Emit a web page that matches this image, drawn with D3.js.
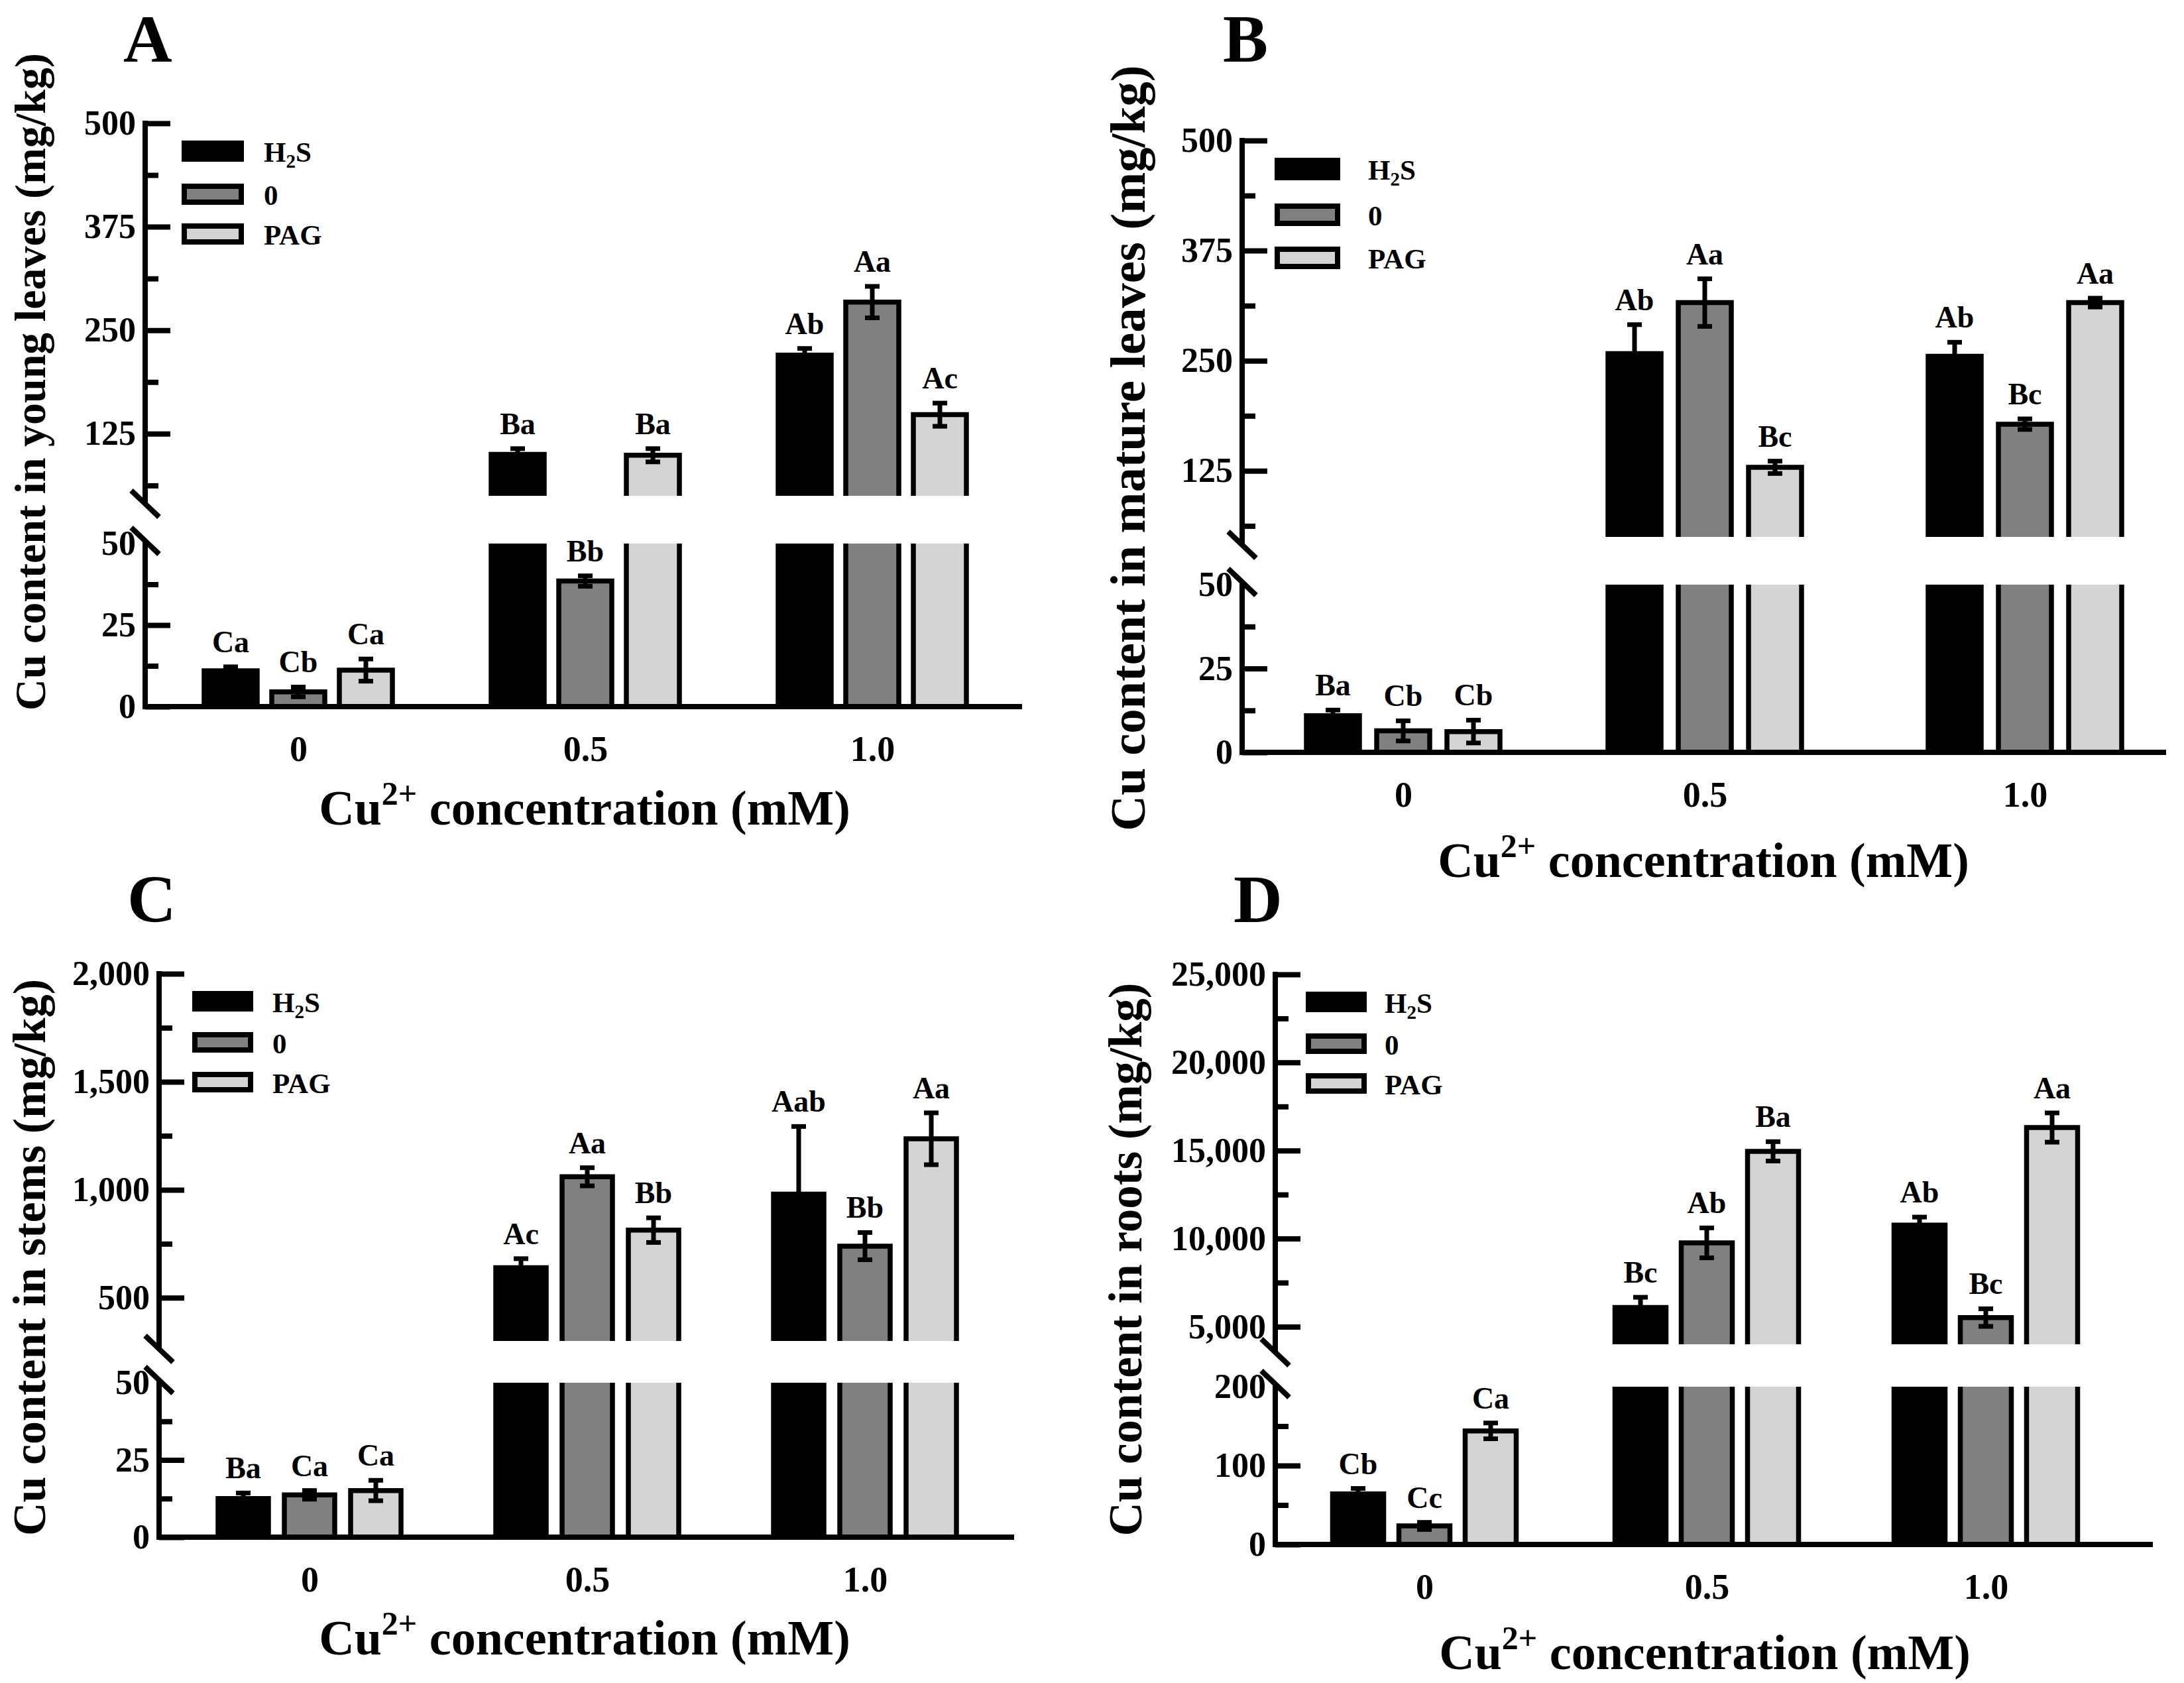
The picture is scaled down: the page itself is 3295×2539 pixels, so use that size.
<!DOCTYPE html>
<html><head><meta charset="utf-8">
<script src="https://cdn.jsdelivr.net/npm/d3@7"></script>
<style>html,body{margin:0;padding:0;background:#fff;}</style>
</head><body>
<svg id="chart" width="3295" height="2539" xmlns="http://www.w3.org/2000/svg"></svg>
<script>
// ---------- data ----------
const cuLevels = ["0", "0.5", "1.0"];
const treatments = ["H2S", "0", "PAG"];
const treatmentColors = ["#000000", "#808080", "#d4d4d4"];

// A: young leaves
const youngH2S = [11.0, 100, 220];
const youngZero = [4.5, 38.5, 284];
const youngPAG = [11.2, 99, 148];
const youngErrH2S = [1.2, 7, 8];
const youngErrZero = [1.5, 1.6, 19];
const youngErrPAG = [3.4, 8, 14];
const youngLetH2S = ["Ca", "Ba", "Ab"];
const youngLetZero = ["Cb", "Bb", "Aa"];
const youngLetPAG = ["Ca", "Ba", "Ac"];

// B: mature leaves
const matureH2S = [10.9, 258, 255];
const matureZero = [6.4, 316, 178];
const maturePAG = [6.2, 129, 316];
const matureErrH2S = [1.7, 33, 16];
const matureErrZero = [3, 27, 6];
const matureErrPAG = [3.4, 7, 5];
const matureLetH2S = ["Ba", "Ab", "Ab"];
const matureLetZero = ["Cb", "Aa", "Bc"];
const matureLetPAG = ["Cb", "Bc", "Aa"];

// C: stems
const stemH2S = [12.5, 639, 980];
const stemZero = [13.7, 1060, 739];
const stemPAG = [15.1, 813, 1236];
const stemErrH2S = [1.8, 42, 313];
const stemErrZero = [1.4, 42, 63];
const stemErrPAG = [3.3, 57, 120];
const stemLetH2S = ["Ba", "Ac", "Aab"];
const stemLetZero = ["Ca", "Aa", "Bb"];
const stemLetPAG = ["Ca", "Bb", "Aa"];

// D: roots
const rootH2S = [64, 6092, 10767];
const rootZero = [23.5, 9757, 5516];
const rootPAG = [144, 14954, 16305];
const rootErrH2S = [7, 577, 455];
const rootErrZero = [4.5, 850, 500];
const rootErrPAG = [10, 550, 830];
const rootLetH2S = ["Cb", "Bc", "Ab"];
const rootLetZero = ["Cc", "Ab", "Bc"];
const rootLetPAG = ["Ca", "Ba", "Aa"];

// axis ticks
const leafUpperTicks = [125, 250, 375, 500];
const leafUpperMinor = [62.5, 187.5, 312.5, 437.5];
const leafLowerTicks = [0, 25, 50];
const leafLowerMinor = [12.5, 37.5];
const stemUpperTicks = [500, 1000, 1500, 2000];
const stemUpperMinor = [750, 1250, 1750];
const stemLowerTicks = [0, 25, 50];
const stemLowerMinor = [12.5, 37.5];
const rootUpperTicks = [5000, 10000, 15000, 20000, 25000];
const rootUpperMinor = [7500, 12500, 17500, 22500];
const rootLowerTicks = [0, 100, 200];
const rootLowerMinor = [50, 150];

// ---------- layout ----------
const FONT = "'Liberation Serif','Times New Roman',serif";
const panels = [
  { letter: "A", lx: 186, ly: 93, title: "Cu content in young leaves (mg/kg)", tx: 45, ty: 576, ts: 66,
    xtx: 882, xty: 1244,
    axisX: 219, yBase: 1066, lowTop: 820, upBot: 748, upTop: 186,
    lowDom: [0, 50], upDom: [50, 500], gc: [450, 883, 1316], pitch: 102, barW: 80, xEnd: 1542,
    legX: 274, legW: 94, legH: 32, legRows: [212, 277, 337], legTX: 398,
    vals: [youngH2S, youngZero, youngPAG], errs: [youngErrH2S, youngErrZero, youngErrPAG],
    lets: [youngLetH2S, youngLetZero, youngLetPAG],
    upT: leafUpperTicks, upM: leafUpperMinor, loT: leafLowerTicks, loM: leafLowerMinor },
  { letter: "B", lx: 1845, ly: 93, title: "Cu content in mature leaves (mg/kg)", tx: 1702, ty: 676, ts: 74.5,
    xtx: 2570, xty: 1323,
    axisX: 1874, yBase: 1135, lowTop: 882, upBot: 810, upTop: 212,
    lowDom: [0, 50], upDom: [50, 500], gc: [2117, 2572, 3055], pitch: 106, barW: 80, xEnd: 3268,
    legX: 1923, legW: 99, legH: 34, legRows: [238, 307, 372], legTX: 2064,
    vals: [matureH2S, matureZero, maturePAG], errs: [matureErrH2S, matureErrZero, matureErrPAG],
    lets: [matureLetH2S, matureLetZero, matureLetPAG],
    upT: leafUpperTicks, upM: leafUpperMinor, loT: leafLowerTicks, loM: leafLowerMinor },
  { letter: "C", lx: 192, ly: 1391, title: "Cu content in stems (mg/kg)", tx: 44, ty: 1897, ts: 70,
    xtx: 882, xty: 2496,
    axisX: 240, yBase: 2319, lowTop: 2086, upBot: 2023, upTop: 1469,
    lowDom: [0, 50], upDom: [300, 2000], gc: [467, 886, 1305], pitch: 100, barW: 76, xEnd: 1530,
    legX: 290, legW: 92, legH: 31, legRows: [1495, 1557, 1617], legTX: 411,
    vals: [stemH2S, stemZero, stemPAG], errs: [stemErrH2S, stemErrZero, stemErrPAG],
    lets: [stemLetH2S, stemLetZero, stemLetPAG],
    upT: stemUpperTicks, upM: stemUpperMinor, loT: stemLowerTicks, loM: stemLowerMinor },
  { letter: "D", lx: 1861, ly: 1391, title: "Cu content in roots (mg/kg)", tx: 1698, ty: 1900, ts: 71,
    xtx: 2572, xty: 2518,
    axisX: 1924, yBase: 2330, lowTop: 2092, upBot: 2028, upTop: 1470,
    lowDom: [0, 200], upDom: [4000, 25000], gc: [2149, 2575, 2996], pitch: 100, barW: 77, xEnd: 3248,
    legX: 1970, legW: 92, legH: 31, legRows: [1496, 1559, 1619], legTX: 2089,
    vals: [rootH2S, rootZero, rootPAG], errs: [rootErrH2S, rootErrZero, rootErrPAG],
    lets: [rootLetH2S, rootLetZero, rootLetPAG],
    upT: rootUpperTicks, upM: rootUpperMinor, loT: rootLowerTicks, loM: rootLowerMinor }
];

const svg = d3.select("#chart");
svg.append("rect").attr("width", 3295).attr("height", 2539).attr("fill", "#fff");

const LW = 8;       // axis line width
const BW = 7.5;     // bar outline width
const EW = 7;       // error bar width

function styleAxis(sel, size) {
  sel.attr("font-family", FONT).attr("font-size", size).attr("font-weight", "bold");
  sel.selectAll("text").attr("fill", "#000");
  sel.selectAll("line").attr("stroke", "#000").attr("stroke-width", LW);
}

function drawPanel(p) {
  const g = svg.append("g");
  const yLow = d3.scaleLinear().domain(p.lowDom).range([p.yBase, p.lowTop]);
  const yUp = d3.scaleLinear().domain(p.upDom).range([p.upBot, p.upTop]);
  const y = v => (v <= p.lowDom[1] ? yLow(v) : yUp(v));
  const xg = d3.scaleLinear().domain([0, 1, 2]).range(p.gc);
  const xs = d3.scaleLinear().domain([0, 2]).range([-p.pitch, p.pitch]);

  // bars
  treatments.forEach((t, j) => {
    p.vals[j].forEach((v, i) => {
      const cx = xg(i) + xs(j);
      const x0 = cx - p.barW / 2, x1 = cx + p.barW / 2;
      const col = treatmentColors[j];
      const lt = yLow(Math.min(v, p.lowDom[1]));
      g.append("rect").attr("x", x0).attr("y", lt).attr("width", p.barW).attr("height", p.yBase - lt).attr("fill", col);
      const dLow = v <= p.lowDom[1]
        ? `M${x0},${p.yBase}V${lt}H${x1}V${p.yBase}`
        : `M${x0},${p.yBase}V${p.lowTop}M${x1},${p.lowTop}V${p.yBase}`;
      g.append("path").attr("d", dLow).attr("fill", "none").attr("stroke", "#000")
        .attr("stroke-width", BW).attr("stroke-linejoin", "miter");
      if (v > p.upDom[0]) {
        const ut = yUp(v);
        g.append("rect").attr("x", x0).attr("y", ut).attr("width", p.barW).attr("height", p.upBot - ut).attr("fill", col);
        g.append("path").attr("d", `M${x0},${p.upBot}V${ut}H${x1}V${p.upBot}`).attr("fill", "none")
          .attr("stroke", "#000").attr("stroke-width", BW).attr("stroke-linejoin", "miter");
      }
    });
  });

  // error bars + letters
  treatments.forEach((t, j) => {
    p.vals[j].forEach((v, i) => {
      const cx = xg(i) + xs(j);
      const e = p.errs[j][i];
      const yt = y(v + e), yb = y(v - e);
      g.append("line").attr("x1", cx).attr("x2", cx).attr("y1", yt).attr("y2", yb)
        .attr("stroke", "#000").attr("stroke-width", EW);
      [yt, yb].forEach(yy => g.append("line").attr("x1", cx - 11).attr("x2", cx + 11)
        .attr("y1", yy).attr("y2", yy).attr("stroke", "#000").attr("stroke-width", EW));
      g.append("text").attr("x", cx).attr("y", yt - 22).attr("text-anchor", "middle")
        .attr("font-family", FONT).attr("font-weight", "bold").attr("font-size", 46)
        .text(p.lets[j][i]);
    });
  });

  // y axis: upper segment
  const au = g.append("g").attr("transform", `translate(${p.axisX},0)`)
    .call(d3.axisLeft(yUp).tickValues(p.upT).tickSize(-38).tickPadding(14).tickFormat(d3.format(",")));
  au.select(".domain").remove();
  styleAxis(au, 52);
  const aum = g.append("g").attr("transform", `translate(${p.axisX},0)`)
    .call(d3.axisLeft(yUp).tickValues(p.upM).tickSize(-20).tickFormat(""));
  aum.select(".domain").remove();
  styleAxis(aum, 52);
  // lower segment
  const al = g.append("g").attr("transform", `translate(${p.axisX},0)`)
    .call(d3.axisLeft(yLow).tickValues(p.loT).tickSize(-38).tickPadding(14).tickFormat(d3.format(",")));
  al.select(".domain").remove();
  al.selectAll(".tick").filter(d => d === p.lowDom[1]).select("line").remove();
  styleAxis(al, 52);
  const alm = g.append("g").attr("transform", `translate(${p.axisX},0)`)
    .call(d3.axisLeft(yLow).tickValues(p.loM).tickSize(-20).tickFormat(""));
  alm.select(".domain").remove();
  styleAxis(alm, 52);

  // axis lines
  g.append("line").attr("x1", p.axisX).attr("x2", p.axisX).attr("y1", p.upTop - LW / 2).attr("y2", p.upBot + 12)
    .attr("stroke", "#000").attr("stroke-width", LW);
  g.append("line").attr("x1", p.axisX).attr("x2", p.axisX).attr("y1", p.lowTop - 4).attr("y2", p.yBase)
    .attr("stroke", "#000").attr("stroke-width", LW);
  // break marks
  [p.upBot + 12, p.lowTop - 4].forEach(yy => {
    g.append("line").attr("x1", p.axisX - 21).attr("y1", yy - 20).attr("x2", p.axisX + 21).attr("y2", yy + 20)
      .attr("stroke", "#000").attr("stroke-width", LW);
  });

  // x axis
  g.append("line").attr("x1", p.axisX - LW / 2).attr("x2", p.xEnd).attr("y1", p.yBase).attr("y2", p.yBase)
    .attr("stroke", "#000").attr("stroke-width", LW);
  const ax = g.append("g").attr("transform", `translate(0,${p.yBase})`)
    .call(d3.axisBottom(xg).tickValues([0, 1, 2]).tickSize(0).tickPadding(44).tickFormat(i => cuLevels[i]));
  ax.select(".domain").remove();
  styleAxis(ax, 54);

  // legend
  treatments.forEach((t, j) => {
    const top = p.legRows[j];
    g.append("rect").attr("x", p.legX + LW / 2).attr("y", top + LW / 2)
      .attr("width", p.legW - LW).attr("height", p.legH - LW)
      .attr("fill", treatmentColors[j]).attr("stroke", "#000").attr("stroke-width", LW);
    const tt = g.append("text").attr("x", p.legTX).attr("y", top + p.legH / 2 + 16)
      .attr("font-family", FONT).attr("font-weight", "bold").attr("font-size", 43);
    if (t === "H2S") {
      tt.append("tspan").text("H");
      tt.append("tspan").attr("font-size", 29).attr("dy", 9).text("2");
      tt.append("tspan").attr("dy", -9).text("S");
    } else {
      tt.text(t);
    }
  });

  // y title
  g.append("text").attr("transform", `translate(${p.tx},${p.ty}) rotate(-90)`)
    .attr("text-anchor", "middle").attr("dominant-baseline", "central")
    .attr("font-family", FONT).attr("font-weight", "bold").attr("font-size", p.ts)
    .text(p.title);

  // x title
  const xt = g.append("text").attr("x", p.xtx).attr("y", p.xty).attr("text-anchor", "middle")
    .attr("font-family", FONT).attr("font-weight", "bold").attr("font-size", 74);
  xt.append("tspan").text("Cu");
  xt.append("tspan").attr("font-size", 50).attr("dy", -30).text("2+");
  xt.append("tspan").attr("dy", 30).text(" concentration (mM)");

  // panel letter
  g.append("text").attr("x", p.lx).attr("y", p.ly)
    .attr("font-family", FONT).attr("font-weight", "bold").attr("font-size", 102)
    .text(p.letter);
}

panels.forEach(drawPanel);
</script>
</body></html>
